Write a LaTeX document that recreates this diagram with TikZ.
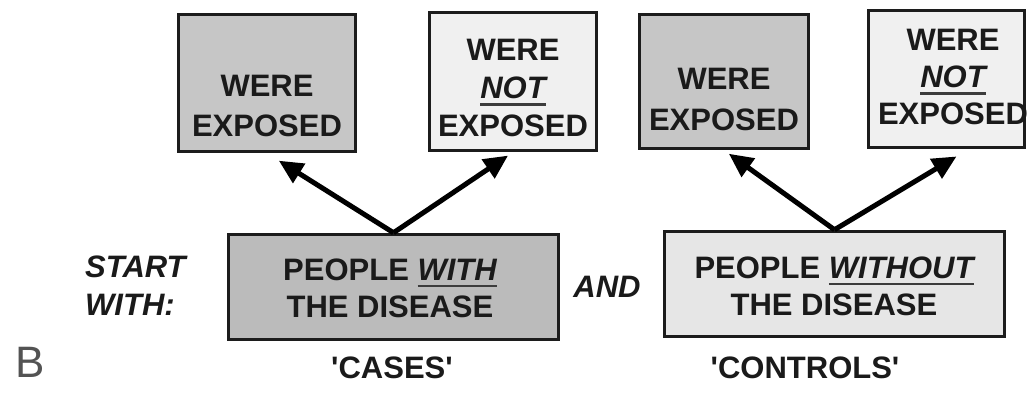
\documentclass[tikz,border=0pt]{standalone}
\usepackage{fontspec}
\setmainfont{Liberation Sans}[Ligatures=TeXOff]
\usetikzlibrary{arrows.meta}

\definecolor{fillgray}{HTML}{C6C6C6}
\definecolor{fillgraydeep}{HTML}{BBBBBB}
\definecolor{filllight}{HTML}{F0F0F0}
\definecolor{filllightdeep}{HTML}{E6E6E6}
\definecolor{frame}{HTML}{1C1C1C}
\definecolor{ink}{HTML}{1A1A1A}

% underline drawn as a rule a few points under the baseline
\newcommand{\undertext}[1]{\setbox0\hbox{#1}\rlap{\color{ink!85}\rule[-7pt]{\wd0}{2.6pt}}\box0}

\tikzset{
  panel/.style={draw=frame, line width=3.5pt, inner sep=0pt},
  lbl/.style={font=\fontsize{31}{#1}\selectfont\bfseries, align=center,
              inner sep=0pt, text=ink},
  lbl/.default=40,
  branch/.style={line width=5pt, draw=black,
                 -{Triangle[length=24pt,width=22pt]}},
}

\begin{document}
\begin{tikzpicture}[x=1pt, y=-1pt]
  \useasboundingbox (0,0) rectangle (1028,396);

  % outcome boxes (top row)
  \node[panel, fill=fillgray,  minimum width=177pt, minimum height=137pt] (caseExp)   at (267,83)   {};
  \node[panel, fill=filllight, minimum width=167pt, minimum height=138pt] (caseNoExp) at (513,81.5) {};
  \node[panel, fill=fillgray,  minimum width=169pt, minimum height=134pt] (ctrlExp)   at (724,81.5) {};
  \node[panel, fill=filllight, minimum width=156pt, minimum height=137pt] (ctrlNoExp) at (946.5,79) {};

  % starting groups (bottom row)
  \node[panel, fill=fillgraydeep,  minimum width=330pt, minimum height=105pt] (cases)    at (393.5,287) {};
  \node[panel, fill=filllightdeep, minimum width=340pt, minimum height=105pt] (controls) at (834.5,284) {};

  % branching arrows
  \draw[branch, shorten >=14pt] (cases.north) -- (caseExp.south);
  \draw[branch, shorten >=6pt]  (cases.north) -- (caseNoExp.south);
  \draw[branch, shorten >=6pt]  (controls.north) -- (ctrlExp.south);
  \draw[branch, shorten >=14pt] (controls.north) -- ([xshift=22pt]ctrlNoExp.south);

  % box texts
  \node[lbl=40] (tCaseExp)   at (267,106) {WERE\\EXPOSED};
  \node[lbl=38] (tCaseNoExp) at (513,88)  {WERE\\\undertext{\itshape NOT}\\EXPOSED};
  \node[lbl=41] (tCtrlExp)   at (724,99.5){WERE\\EXPOSED};
  \node[lbl=37] (tCtrlNoExp) at (953,77)  {WERE\\\undertext{\itshape NOT}\\EXPOSED};
  \node[lbl=37] (tCases)     at (390,288) {PEOPLE \undertext{\itshape WITH}\\THE DISEASE};
  \node[lbl=37] (tControls)  at (834,286) {PEOPLE \undertext{\itshape WITHOUT}\\THE DISEASE};

  % side words and captions
  \node[lbl=38, align=left, anchor=west, font=\fontsize{31}{38}\selectfont\bfseries\itshape] (start) at (85,286) {START\\WITH:};
  \node[lbl, font=\fontsize{31}{38}\selectfont\bfseries\itshape] (andword) at (607,287) {AND};
  \node[lbl] (capCases)    at (392,368) {'CASES'};
  \node[lbl] (capControls) at (805,368) {'CONTROLS'};
  \node[font=\fontsize{44}{50}\selectfont, text=ink!75, inner sep=0pt] (panelB) at (30,362) {B};
\end{tikzpicture}
\end{document}
